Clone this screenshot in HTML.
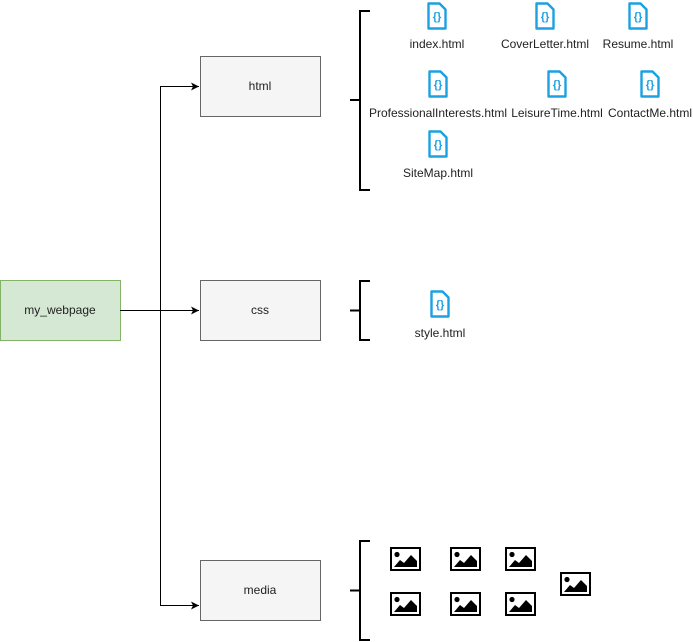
<!DOCTYPE html>
<html><head><meta charset="utf-8"><style>
html,body{margin:0;padding:0;background:#fff;}
svg{display:block;}
text{font-family:"Liberation Sans",Arial,sans-serif;font-size:12px;fill:#222;}
</style></head><body>
<svg width="693" height="642" viewBox="0 0 693 642" xmlns="http://www.w3.org/2000/svg">
<defs>
<g id="f">
<path d="M-8.5,-12.5 h11 l6,6 v19 h-17 z" fill="#fff" stroke="#1ba1e2" stroke-width="2.4" stroke-linejoin="round"/>
<text x="0" y="4" text-anchor="middle" style="font-size:11px;fill:#1ba1e2;font-weight:bold">{}</text>
</g>
<g id="im">
<rect x="0" y="0" width="29" height="22" fill="#fff" stroke="#000" stroke-width="2"/>
<circle cx="6" cy="6.5" r="2.6" fill="#000"/>
<path d="M3,19 L9,12 L13,15 L20,7 L26,13 V19 Z" fill="#000"/>
</g>
<marker id="a" markerWidth="10" markerHeight="10" refX="8" refY="4.5" orient="auto" markerUnits="userSpaceOnUse">
<path d="M0,0.5 L8,4.5 L0,8.5 L2,4.5 Z" fill="#000"/>
</marker>
</defs>
<rect x="0.5" y="280.5" width="120" height="60" fill="#d5e8d4" stroke="#82b366"/>
<text x="60" y="314" text-anchor="middle">my_webpage</text>
<rect x="200.5" y="56.5" width="120" height="60" fill="#f5f5f5" stroke="#666"/>
<text x="260" y="90" text-anchor="middle">html</text>
<rect x="200.5" y="280.5" width="120" height="60" fill="#f5f5f5" stroke="#666"/>
<text x="260" y="314" text-anchor="middle">css</text>
<rect x="200.5" y="560.5" width="120" height="60" fill="#f5f5f5" stroke="#666"/>
<text x="260" y="594" text-anchor="middle">media</text>
<g stroke="#000" stroke-width="1" fill="none">
<path d="M120,310.5 H199" marker-end="url(#a)"/>
<path d="M160.5,310 V86.5 H199" marker-end="url(#a)"/>
<path d="M160.5,310 V605.5 H199" marker-end="url(#a)"/>
</g>
<g stroke="#000" stroke-width="2" fill="none">
<path d="M370,11 H360 V190 H370 M350,100 H360"/>
<path d="M370,281 H360 V340 H370 M350,310.5 H360"/>
<path d="M370,541 H360 V640 H370 M350,590.5 H360"/>
</g>
<use href="#f" x="437" y="16"/><text x="437" y="48" text-anchor="middle">index.html</text>
<use href="#f" x="545" y="16"/><text x="545" y="48" text-anchor="middle">CoverLetter.html</text>
<use href="#f" x="638" y="16"/><text x="638" y="48" text-anchor="middle">Resume.html</text>
<use href="#f" x="438" y="84"/><text x="438" y="117" text-anchor="middle">ProfessionalInterests.html</text>
<use href="#f" x="557" y="84"/><text x="557" y="117" text-anchor="middle">LeisureTime.html</text>
<use href="#f" x="650" y="84"/><text x="650" y="117" text-anchor="middle">ContactMe.html</text>
<use href="#f" x="438" y="144"/><text x="438" y="177" text-anchor="middle">SiteMap.html</text>
<use href="#f" x="440" y="304"/><text x="440" y="337" text-anchor="middle">style.html</text>
<use href="#im" x="391" y="548"/><use href="#im" x="451" y="548"/><use href="#im" x="506" y="548"/>
<use href="#im" x="561" y="573"/>
<use href="#im" x="391" y="593"/><use href="#im" x="451" y="593"/><use href="#im" x="506" y="593"/>
</svg>
</body></html>
